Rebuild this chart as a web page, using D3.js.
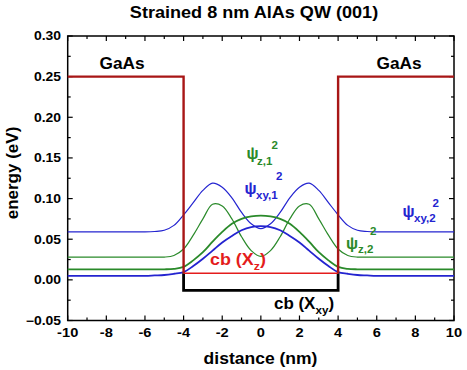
<!DOCTYPE html>
<html>
<head>
<meta charset="utf-8">
<script src="https://cdn.jsdelivr.net/npm/d3@7"></script>
<style>
  body { margin: 0; background: #fff; }
  svg text { font-family: Arial, "Liberation Sans", sans-serif; font-weight: bold; }
</style>
</head>
<body>
<div id="chart"></div>
<script>
// distance (nm) sample points for the |psi|^2 curves
const xs = [-10, -8, -6, -5.5, -5, -4.5, -4, -3.5, -3, -2.5, -2, -1.5, -1, -0.5, 0,
  0.5, 1, 1.5, 2, 2.5, 3, 3.5, 4, 4.5, 5, 5.5, 6, 8, 10];

// energies (eV)
const psiXy1 = [0.005, 0.005, 0.005, 0.0055, 0.006, 0.0075, 0.0095, 0.017, 0.026, 0.036, 0.046, 0.054, 0.061, 0.065, 0.066,
  0.065, 0.061, 0.054, 0.046, 0.036, 0.026, 0.017, 0.0095, 0.0075, 0.006, 0.0055, 0.005, 0.005, 0.005];
const psiZ1 = [0.013, 0.013, 0.013, 0.013, 0.013, 0.0135, 0.016, 0.024, 0.034, 0.047, 0.059, 0.069, 0.075, 0.078, 0.079,
  0.078, 0.075, 0.069, 0.059, 0.047, 0.034, 0.024, 0.016, 0.0135, 0.013, 0.013, 0.013, 0.013, 0.013];
const psiZ2 = [0.028, 0.028, 0.028, 0.028, 0.028, 0.030, 0.038, 0.055, 0.075, 0.093, 0.091, 0.075, 0.053, 0.036, 0.029,
  0.036, 0.053, 0.075, 0.091, 0.093, 0.075, 0.055, 0.038, 0.030, 0.028, 0.028, 0.028, 0.028, 0.028];
const psiXy2 = [0.059, 0.059, 0.059, 0.0595, 0.061, 0.067, 0.080, 0.095, 0.110, 0.119, 0.114, 0.101, 0.083, 0.069, 0.063,
  0.069, 0.083, 0.101, 0.114, 0.119, 0.110, 0.095, 0.080, 0.067, 0.061, 0.0595, 0.059, 0.059, 0.059];

// band edges
const wellEdges = [-4, 4];
const gaasLevel = 0.25;
const xzLevel = 0.008;
const xyLevel = -0.013;

const xTicks = [-10, -8, -6, -4, -2, 0, 2, 4, 6, 8, 10];
const yTicks = [-0.05, 0, 0.05, 0.10, 0.15, 0.20, 0.25, 0.30];

const W = 467, H = 370;
const svg = d3.select('#chart').append('svg').attr('width', W).attr('height', H);

const x = d3.scaleLinear().domain([-10, 10]).range([67.7, 454]);
const y = d3.scaleLinear().domain([-0.05, 0.30]).range([320.5, 36]);

const blue = '#2424d0';
const green = '#2a8a2a';
const red = '#e41c1c';
const darkRed = '#a81616';

// the reference text is a little wider than plain Arial bold
const SX = 1.13;
function label(px, py, str, size, anchor, fill, sx) {
  return svg.append('text')
    .attr('transform', `translate(${px},${py}) scale(${sx || SX},1)`)
    .attr('text-anchor', anchor || 'start')
    .attr('font-size', size)
    .attr('fill', fill || '#000')
    .text(str);
}

// frame
svg.append('rect')
  .attr('x', x(-10)).attr('y', y(0.30))
  .attr('width', x(10) - x(-10)).attr('height', y(-0.05) - y(0.30))
  .attr('fill', 'none').attr('stroke', '#000').attr('stroke-width', 1.5);

// ticks on all four sides, pointing in
const xMinor = d3.range(-10, 10.01, 1);
const yMinor = d3.range(-0.05, 0.3001, 0.025);
const tickG = svg.append('g').attr('stroke', '#000').attr('stroke-width', 1.2);
xMinor.forEach((v) => {
  const len = xTicks.includes(Math.round(v)) ? 5 : 3;
  tickG.append('line').attr('x1', x(v)).attr('x2', x(v)).attr('y1', y(-0.05)).attr('y2', y(-0.05) - len);
  tickG.append('line').attr('x1', x(v)).attr('x2', x(v)).attr('y1', y(0.30)).attr('y2', y(0.30) + len);
});
yMinor.forEach((v, i) => {
  const len = i % 2 === 0 ? 5 : 3;
  tickG.append('line').attr('y1', y(v)).attr('y2', y(v)).attr('x1', x(-10)).attr('x2', x(-10) + len);
  tickG.append('line').attr('y1', y(v)).attr('y2', y(v)).attr('x1', x(10)).attr('x2', x(10) - len);
});

// tick labels
xTicks.forEach((d) => label(x(d), 336.5, d, 12, 'middle', '#000', 1.22));
yTicks.forEach((d) => label(61, y(d) + 4.3, d3.format('.2f')(d), 12, 'end', '#000', 1.16));

// curves
const line = d3.line()
  .x((d) => x(d[0]))
  .y((d) => y(d[1]))
  .curve(d3.curveCatmullRom.alpha(0.5));

const curves = [
  { vals: psiXy2, color: blue, w: 1.2 },
  { vals: psiZ2, color: green, w: 1.2 },
  { vals: psiZ1, color: green, w: 1.8 },
  { vals: psiXy1, color: blue, w: 1.8 }
];
curves.forEach((c) => {
  svg.append('path')
    .datum(xs.map((v, i) => [v, c.vals[i]]))
    .attr('d', line)
    .attr('fill', 'none')
    .attr('stroke', c.color)
    .attr('stroke-width', c.w);
});

// potential profile
const straight = d3.line().x((d) => x(d[0])).y((d) => y(d[1]));
svg.append('path')
  .datum([[wellEdges[0], xzLevel], [wellEdges[0], xyLevel], [wellEdges[1], xyLevel], [wellEdges[1], xzLevel]])
  .attr('d', straight).attr('fill', 'none').attr('stroke', '#000').attr('stroke-width', 2.8);
svg.append('path')
  .datum([[wellEdges[0], xzLevel], [wellEdges[1], xzLevel]])
  .attr('d', straight).attr('fill', 'none').attr('stroke', red).attr('stroke-width', 1.5);
svg.append('path')
  .datum([[-10, gaasLevel], [wellEdges[0], gaasLevel], [wellEdges[0], xzLevel]])
  .attr('d', straight).attr('fill', 'none').attr('stroke', darkRed).attr('stroke-width', 2.4);
svg.append('path')
  .datum([[wellEdges[1], xzLevel], [wellEdges[1], gaasLevel], [10, gaasLevel]])
  .attr('d', straight).attr('fill', 'none').attr('stroke', darkRed).attr('stroke-width', 2.4);

// titles
label(254, 17.5, 'Strained 8 nm AlAs QW (001)', 16, 'middle');
label(260.5, 364, 'distance (nm)', 17, 'middle', '#000', 1.03);
svg.append('text').attr('transform', 'translate(18,173) rotate(-90)').attr('text-anchor', 'middle')
  .attr('font-size', 17).text('energy (eV)');

// GaAs labels
label(122, 68.5, 'GaAs', 16, 'middle', '#000', 1.08);
label(399, 68.5, 'GaAs', 16, 'middle', '#000', 1.08);

// band labels
const cbZ = label(210, 265, '', 16, 'start', red, 1.12);
cbZ.append('tspan').text('cb (X');
cbZ.append('tspan').attr('font-size', 11).attr('dy', 5).text('z');
cbZ.append('tspan').attr('dy', -5).text(')');

const cbXy = label(274, 308.5, '', 16, 'start', '#000', 1.06);
cbXy.append('tspan').text('cb (X');
cbXy.append('tspan').attr('font-size', 11).attr('dy', 5).text('xy');
cbXy.append('tspan').attr('dy', -5).text(')');

// psi labels: [psi x, psi baseline, sub text, sub x, sub baseline, sup x, sup baseline, color]
const psiLabels = [
  [246.5, 158.5, 'z,1', 257, 165, 271.5, 148.5, green],
  [244.5, 193.5, 'xy,1', 256, 198.5, 276, 180, blue],
  [402.5, 216.5, 'xy,2', 414, 221.5, 432.5, 206.5, blue],
  [346, 248.5, 'z,2', 358, 253, 370, 235, green]
];
psiLabels.forEach((p) => {
  label(p[0], p[1], '\u03c8', 16, 'start', p[7], 1);
  label(p[3], p[4], p[2], 11, 'start', p[7], 1.05);
  label(p[5], p[6], '2', 11, 'start', p[7], 1.05);
});
</script>
</body>
</html>
